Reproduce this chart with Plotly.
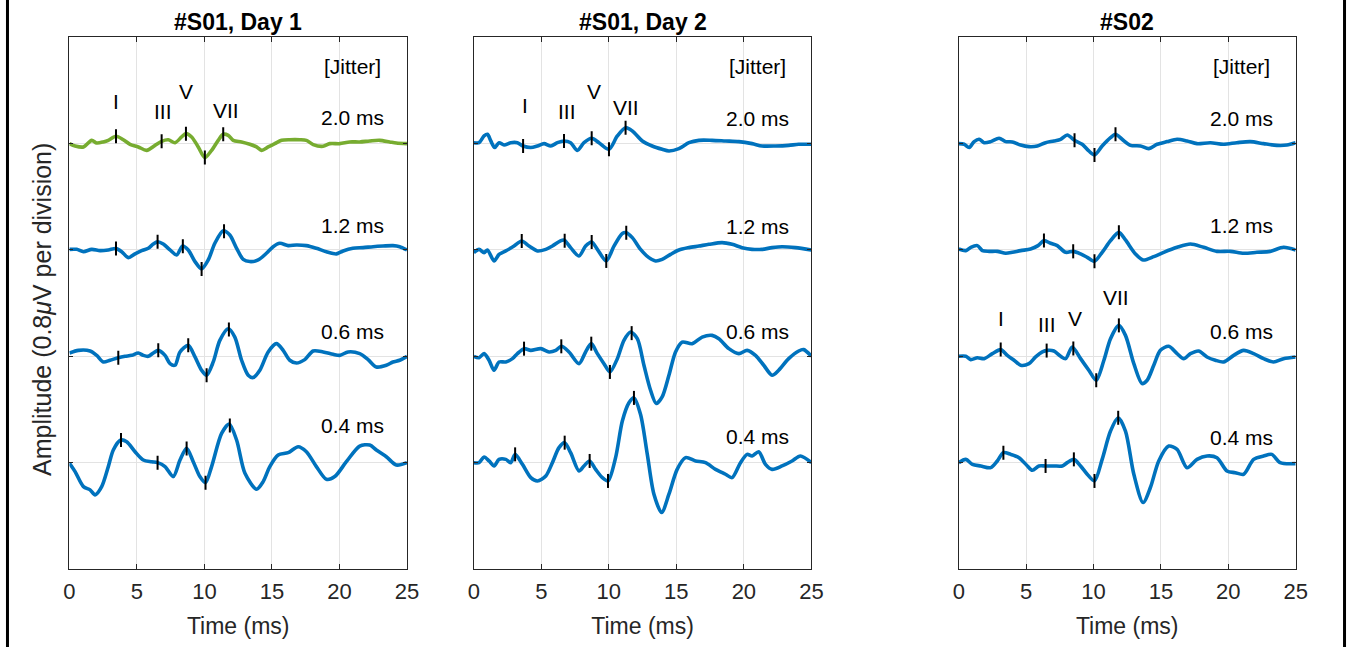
import numpy as np
import plotly.graph_objects as go

# ---------------- data (time in ms, amplitude in divisions) ----------------
jitters = ["2.0 ms", "1.2 ms", "0.6 ms", "0.4 ms"]
offsets = [3, 2, 1, 0]
titles = ["#S01, Day 1", "#S01, Day 2", "#S02"]

# Panel 1: #S01, Day 1
p1_t20 = [0, 0.42, 1.04, 1.65, 2.02, 2.51, 2.88, 3.45, 3.99, 4.49, 5.10, 5.72, 6.34, 6.83, 7.32, 7.82, 8.31, 8.63, 9.05, 9.54, 10.03, 10.53, 11.02, 11.39, 11.76, 12.13, 12.75, 13.36, 13.86, 14.23, 14.72, 15.21, 15.71, 16.32, 17.06, 17.55, 18.05, 18.79, 19.28, 20.02, 20.76, 21.50, 22.24, 22.98, 23.72, 24.21, 25.0]
p1_a20 = [0, -0.022, -0.031, 0.031, 0.006, 0.016, 0.031, 0.069, 0.037, -0.006, -0.031, -0.063, -0.016, 0.022, 0.037, 0.009, 0.063, 0.094, 0.063, -0.031, -0.131, -0.063, 0.031, 0.088, 0.078, 0.031, 0.016, -0.006, -0.031, -0.063, -0.031, 0, 0.031, 0.037, 0.037, 0.031, -0.009, -0.025, 0, 0, 0.016, 0.016, 0.025, 0.031, 0.016, 0.006, 0]
p1_t12 = [0, 0.54, 1.04, 1.65, 2.27, 2.88, 3.45, 3.87, 4.36, 4.86, 5.35, 5.84, 6.21, 6.53, 6.95, 7.45, 7.94, 8.38, 8.80, 9.30, 9.79, 10.28, 10.77, 11.39, 11.88, 12.38, 12.87, 13.36, 13.98, 14.59, 15.09, 15.58, 16.20, 16.81, 17.55, 18.29, 19.03, 19.77, 20.27, 20.99, 21.75, 22.49, 23.23, 23.96, 24.46, 25]
p1_a12 = [0.006, 0.006, -0.016, 0.006, -0.006, 0, 0.013, -0.016, -0.072, -0.037, -0.006, 0.016, 0.056, 0.078, 0.056, 0, -0.047, 0.037, 0, -0.109, -0.178, -0.094, 0.063, 0.181, 0.141, 0.016, -0.088, -0.109, -0.094, -0.031, 0.031, 0.063, 0.041, 0.047, 0.041, 0.016, -0.016, -0.037, -0.009, 0.016, 0.022, 0.031, 0.037, 0.041, 0.031, 0]
p1_t06 = [0, 0.67, 1.53, 2.02, 2.51, 3.01, 3.62, 4.12, 4.61, 5.10, 5.47, 5.84, 6.21, 6.58, 7.08, 7.45, 7.82, 8.19, 8.80, 9.30, 9.79, 10.16, 10.65, 11.14, 11.76, 12.25, 12.75, 13.24, 13.61, 14.10, 14.72, 15.33, 15.83, 16.32, 16.81, 17.43, 18.05, 18.79, 19.53, 20.02, 20.64, 21.50, 22.12, 22.73, 23.47, 23.96, 24.46, 25]
p1_a06 = [0.031, 0.056, 0.05, 0.009, -0.053, -0.037, -0.013, 0, 0.009, 0.031, 0.009, 0, 0.031, 0.056, 0.009, -0.069, -0.084, 0.041, 0.103, -0.006, -0.131, -0.178, -0.053, 0.15, 0.259, 0.181, -0.037, -0.178, -0.2, -0.131, 0.041, 0.119, 0.056, -0.037, -0.063, -0.031, 0.05, 0.041, 0.019, 0.009, 0.041, 0.025, -0.031, -0.1, -0.084, -0.053, -0.037, 0]
p1_t04 = [0, 0.42, 1.04, 1.53, 1.90, 2.39, 2.88, 3.25, 3.80, 4.24, 4.86, 5.47, 6.09, 6.53, 7.08, 7.69, 8.19, 8.68, 9.17, 9.66, 10.08, 10.53, 11.27, 11.83, 12.38, 13.00, 13.86, 14.35, 14.84, 15.46, 16.20, 16.94, 17.55, 18.29, 19.03, 19.65, 20.51, 21.50, 22.24, 22.73, 23.47, 24.21, 25]
p1_a04 = [-0.006, -0.084, -0.225, -0.256, -0.303, -0.225, -0.037, 0.119, 0.213, 0.197, 0.103, 0.025, 0.009, 0, -0.037, -0.131, 0.025, 0.134, 0.009, -0.131, -0.188, -0.037, 0.275, 0.363, 0.213, -0.1, -0.25, -0.178, -0.037, 0.072, 0.094, 0.15, 0.103, -0.037, -0.156, -0.131, 0.009, 0.156, 0.166, 0.119, 0.056, -0.022, 0]

# Panel 2: #S01, Day 2
p2_t20 = [0, 0.39, 0.76, 1.01, 1.26, 1.55, 1.87, 2.24, 2.74, 3.23, 3.65, 4.22, 4.71, 5.20, 5.70, 6.19, 6.68, 7.17, 7.67, 8.16, 8.73, 9.27, 10.01, 10.63, 11.24, 11.74, 12.48, 13.21, 13.95, 14.45, 15.19, 15.93, 16.67, 17.65, 18.64, 19.63, 20.61, 21.35, 22.34, 23.32, 24.06, 25]
p2_a20 = [0.009, 0.009, 0.072, 0.088, 0.025, -0.037, 0.009, -0.013, 0.009, 0.009, -0.022, -0.037, -0.022, 0, -0.022, 0.009, 0.025, 0.009, -0.063, 0.009, 0.05, 0.009, -0.053, 0.072, 0.15, 0.119, 0.025, -0.022, -0.053, -0.069, -0.047, 0.009, 0.031, 0.031, 0.025, 0.019, 0, -0.022, -0.022, -0.016, -0.006, -0.006]
p2_t12 = [0, 0.39, 0.76, 1.01, 1.50, 1.87, 2.37, 2.98, 3.55, 4.09, 4.71, 5.33, 5.82, 6.39, 6.68, 7.17, 7.79, 8.28, 8.73, 9.15, 9.81, 10.38, 11.00, 11.29, 11.74, 12.35, 12.97, 13.46, 13.95, 14.57, 15.19, 15.93, 16.67, 17.41, 18.39, 19.13, 19.87, 20.61, 21.35, 22.09, 22.83, 23.82, 25]
p2_a12 = [-0.025, 0.006, -0.025, 0, -0.103, -0.041, -0.009, 0.037, 0.084, 0.037, -0.009, 0.006, 0.037, 0.084, 0.094, 0.022, -0.056, 0.037, 0.075, 0.006, -0.103, 0.037, 0.156, 0.163, 0.116, 0.006, -0.072, -0.103, -0.088, -0.041, 0, 0.022, 0.037, 0.053, 0.069, 0.053, 0.022, 0.006, 0.006, 0.022, 0.031, 0.022, 0]
p2_t06 = [0, 0.39, 0.76, 1.13, 1.50, 1.87, 2.37, 2.86, 3.23, 3.72, 4.22, 4.96, 5.57, 6.07, 6.48, 7.05, 7.79, 8.28, 8.70, 9.15, 9.64, 10.08, 10.63, 11.12, 11.61, 12.11, 12.60, 13.09, 13.51, 13.95, 14.45, 14.94, 15.43, 16.17, 16.91, 17.65, 18.15, 18.89, 19.63, 20.24, 20.86, 21.47, 22.09, 22.58, 23.32, 24.06, 24.43, 25]
p2_a06 = [0, -0.013, 0.025, -0.037, -0.131, -0.053, -0.053, -0.022, 0.025, 0.072, 0.056, 0.072, 0.041, 0.056, 0.094, 0.041, -0.069, 0.041, 0.119, 0.025, -0.069, -0.147, -0.022, 0.15, 0.228, 0.166, -0.084, -0.319, -0.444, -0.381, -0.178, 0.041, 0.134, 0.119, 0.181, 0.197, 0.166, 0.072, 0.025, 0.056, 0.009, -0.084, -0.178, -0.131, -0.022, 0.05, 0.063, 0]
p2_t04 = [0, 0.39, 0.76, 1.13, 1.50, 1.87, 2.37, 2.74, 3.06, 3.60, 4.22, 4.71, 5.33, 5.82, 6.31, 6.73, 7.17, 7.79, 8.16, 8.58, 9.02, 9.52, 9.94, 10.50, 11.00, 11.49, 11.86, 12.35, 12.85, 13.34, 13.91, 14.45, 15.06, 15.68, 16.42, 17.16, 17.90, 18.64, 19.13, 19.75, 20.24, 20.61, 21.10, 21.60, 22.09, 22.83, 23.57, 24.19, 25]
p2_a04 = [0, 0, 0.053, 0.016, -0.031, 0.031, 0.031, 0, 0.078, -0.016, -0.141, -0.172, -0.125, 0, 0.141, 0.188, 0.094, -0.078, -0.031, 0.016, -0.063, -0.141, -0.172, 0.047, 0.391, 0.563, 0.609, 0.453, 0.078, -0.297, -0.469, -0.297, -0.063, 0.047, 0.016, 0, -0.063, -0.109, -0.141, 0, 0.078, 0.063, 0.103, -0.016, -0.063, -0.031, 0.016, 0.063, 0]

# Panel 3: #S02
p3_t20 = [0, 0.40, 0.77, 1.14, 1.51, 1.88, 2.37, 2.99, 3.48, 3.98, 4.59, 5.21, 5.83, 6.44, 7.06, 7.56, 8.05, 8.59, 9.16, 9.65, 10.07, 10.64, 11.26, 11.63, 12.12, 12.74, 13.48, 14.10, 14.72, 15.46, 16.20, 16.94, 17.68, 18.67, 19.65, 20.64, 21.63, 22.62, 23.60, 24.35, 25]
p3_a20 = [0, -0.006, -0.037, 0.019, 0.041, 0.009, 0.019, 0.05, 0.019, 0.016, -0.013, -0.028, -0.022, 0.009, 0.025, 0.041, 0.081, 0.031, -0.006, -0.069, -0.106, -0.022, 0.056, 0.088, 0.041, -0.016, -0.022, -0.047, -0.006, 0.019, 0.041, 0.025, 0, 0.009, -0.006, 0.009, 0.019, 0, -0.016, -0.013, 0.009]
p3_t12 = [0, 0.52, 0.89, 1.38, 1.75, 2.25, 2.86, 3.48, 3.98, 4.59, 5.33, 5.88, 6.32, 6.81, 7.31, 7.93, 8.49, 9.04, 9.53, 10.07, 10.64, 11.26, 11.88, 12.37, 13.11, 13.68, 14.47, 15.21, 16.20, 17.19, 18.17, 19.16, 20.15, 21.14, 22.12, 23.11, 24.10, 25]
p3_a12 = [0.009, -0.006, 0.025, 0.041, -0.006, -0.013, -0.013, -0.031, -0.022, -0.006, 0.009, 0.041, 0.088, 0.063, 0.041, -0.022, -0.013, -0.037, -0.069, -0.106, -0.022, 0.088, 0.166, 0.094, -0.037, -0.094, -0.063, -0.022, 0.025, 0.056, 0.025, -0.013, -0.013, -0.031, -0.022, -0.013, 0.025, 0]
p3_t06 = [0, 0.52, 0.89, 1.38, 1.88, 2.49, 3.11, 3.60, 4.10, 4.59, 5.21, 5.70, 6.20, 6.57, 7.06, 7.56, 7.93, 8.42, 9.04, 9.65, 10.20, 10.77, 11.26, 11.88, 12.37, 12.99, 13.60, 13.98, 14.47, 14.96, 15.58, 16.20, 16.69, 17.19, 17.80, 18.42, 19.04, 19.65, 20.40, 21.14, 21.88, 22.62, 23.36, 24.10, 25]
p3_a06 = [0, 0, -0.031, -0.013, -0.022, 0.025, 0.063, 0.009, -0.037, -0.084, -0.069, -0.006, 0.041, 0.056, 0.05, 0, -0.022, 0.088, -0.022, -0.131, -0.225, -0.037, 0.166, 0.291, 0.197, -0.069, -0.256, -0.225, -0.084, 0.056, 0.094, 0.025, -0.022, 0.025, 0.05, -0.006, -0.037, -0.053, 0.009, 0.056, 0.025, -0.022, -0.053, -0.022, -0.006]
p3_t04 = [0, 0.52, 1.01, 1.63, 2.37, 2.86, 3.31, 3.85, 4.47, 5.09, 5.46, 5.95, 6.44, 7.06, 7.68, 8.05, 8.54, 9.04, 9.53, 10.07, 10.64, 11.26, 11.83, 12.37, 12.99, 13.68, 14.22, 14.84, 15.58, 16.20, 16.94, 17.68, 18.42, 19.16, 19.90, 20.52, 21.14, 21.88, 22.62, 23.23, 23.85, 25]
p3_a04 = [0, 0.031, -0.016, -0.031, -0.047, 0.016, 0.094, 0.078, 0.047, -0.031, -0.072, -0.031, -0.031, -0.031, -0.031, 0, 0.031, -0.031, -0.109, -0.172, 0.031, 0.297, 0.422, 0.297, -0.109, -0.375, -0.234, 0.016, 0.156, 0.125, -0.047, 0.031, 0.063, 0.047, -0.078, -0.094, -0.109, 0.031, 0.063, 0.078, 0, -0.009]

# Peak latencies (ms) marked with short vertical ticks
p1_peaks = [[3.45, 6.83, 8.63, 10.03, 11.39], [3.45, 6.53, 8.40, 9.79, 11.45], [3.62, 6.58, 8.80, 10.16, 11.81], [3.82, 6.53, 8.68, 10.08, 11.88]]
p2_peaks = [[3.65, 6.68, 8.73, 10.01, 11.24], [3.55, 6.73, 8.73, 9.81, 11.29], [3.72, 6.48, 8.70, 10.08, 11.69], [3.06, 6.73, 8.58, 9.94, 11.86]]
p3_peaks = [[8.59, 10.07, 11.63], [6.32, 8.49, 10.07, 11.88], [3.11, 6.52, 8.50, 10.20, 11.88], [3.31, 6.44, 8.54, 10.07, 11.83]]

# Wave labels (text, time ms, y in divisions)
wave_names = ["I", "III", "V", "VII"]
p1_wave_x = [3.45, 6.95, 8.63, 11.56]
p1_wave_y = [3.40, 3.30, 3.49, 3.31]
p2_wave_x = [3.80, 6.88, 8.90, 11.24]
p2_wave_y = [3.36, 3.30, 3.49, 3.34]
p3_wave_x = [3.11, 6.57, 8.59, 11.68]
p3_wave_y = [1.36, 1.30, 1.36, 1.55]

# Jitter label positions (y in divisions) per panel
jitter_label_x = 21.0
jitter_head_y = 3.73
p1_jit_y = [3.246, 2.230, 1.232, 0.354]
p2_jit_y = [3.238, 2.219, 1.232, 0.245]
p3_jit_y = [3.238, 2.229, 1.232, 0.232]

# ---------------- figure ----------------
BLUE = "#0072BD"
GREEN = "#77AC30"
AX = "#262626"
FONT = "Liberation Sans, Arial, sans-serif"

panels = [
    dict(t=[p1_t20, p1_t12, p1_t06, p1_t04], a=[p1_a20, p1_a12, p1_a06, p1_a04], peaks=p1_peaks,
         wx=p1_wave_x, wy=p1_wave_y, jy=p1_jit_y, colors=[GREEN, BLUE, BLUE, BLUE]),
    dict(t=[p2_t20, p2_t12, p2_t06, p2_t04], a=[p2_a20, p2_a12, p2_a06, p2_a04], peaks=p2_peaks,
         wx=p2_wave_x, wy=p2_wave_y, jy=p2_jit_y, colors=[BLUE] * 4),
    dict(t=[p3_t20, p3_t12, p3_t06, p3_t04], a=[p3_a20, p3_a12, p3_a06, p3_a04], peaks=p3_peaks,
         wx=p3_wave_x, wy=p3_wave_y, jy=p3_jit_y, colors=[BLUE] * 4),
]

W, H = 1358, 647


def px(X):
    # horizontal pixel position -> paper fraction (corrects the slight horizontal squeeze of the capture)
    return max(0.0, min(1.0, (X - 6.0) / 0.988 / W))


x_domains = [[px(69.5), px(407.5)], [px(474.4), px(812.4)], [px(960), px(1297.3)]]
y_domain = [(H - 569) / H, (H - 37.3) / H]

fig = go.Figure()
annotations = []


def label(x, y, xref, yref, text, size, color="black", **kw):
    return dict(x=x, y=y, xref=xref, yref=yref, text=text, showarrow=False,
                xanchor="center", yanchor="middle",
                font=dict(family=FONT, size=size, color=color), **kw)


for i, p in enumerate(panels):
    xa = "x" if i == 0 else f"x{i+1}"
    ya = "y" if i == 0 else f"y{i+1}"
    for k in range(4):
        t = np.array(p["t"][k])
        y = np.array(p["a"][k]) + offsets[k]
        fig.add_trace(go.Scatter(x=t, y=y, mode="lines", xaxis=xa, yaxis=ya,
                                 line=dict(color=p["colors"][k], width=3.6, shape="spline", smoothing=0.8),
                                 showlegend=False, hoverinfo="skip"))
    for k in range(4):
        pk = np.array(p["peaks"][k])
        py = np.interp(pk, p["t"][k], p["a"][k]) + offsets[k]
        fig.add_trace(go.Scatter(x=pk, y=py, mode="markers", xaxis=xa, yaxis=ya,
                                 marker=dict(symbol="line-ns", size=10, line=dict(color="black", width=2)),
                                 showlegend=False, hoverinfo="skip"))
    annotations.append(label(jitter_label_x, jitter_head_y, xa, ya, "[Jitter]", 21))
    for k in range(4):
        annotations.append(label(jitter_label_x, p["jy"][k], xa, ya, jitters[k], 21))
    for n, name in enumerate(wave_names):
        annotations.append(label(p["wx"][n], p["wy"][n], xa, ya, name, 21))
    cx = (x_domains[i][0] + x_domains[i][1]) / 2
    annotations.append(label(cx, (H - 22) / H, "paper", "paper", f"<b>{titles[i]}</b>", 23))

# y-axis title
annotations.append(label(px(42), (H - 309) / H, "paper", "paper",
                         "Amplitude (0.8<i>μ</i>V per division)", 25, color=AX, textangle=-90))

xaxis_common = dict(range=[0, 25], tickvals=[0, 5, 10, 15, 20, 25], ticks="inside", ticklen=5,
                    tickcolor=AX, tickwidth=1, showline=True, linecolor=AX, linewidth=1, mirror="ticks",
                    showgrid=True, gridcolor="#e3e3e3", gridwidth=1, zeroline=False,
                    tickfont=dict(family=FONT, size=22, color=AX), ticklabelstandoff=3,
                    title=dict(text="Time (ms)", font=dict(family=FONT, size=23, color=AX), standoff=14))
yaxis_common = dict(range=[-1, 4], tickvals=[0, 1, 2, 3], ticks="inside", ticklen=4, tickcolor=AX,
                    showticklabels=False, showline=True, linecolor=AX, linewidth=1, mirror="ticks",
                    showgrid=True, gridcolor="#e3e3e3", gridwidth=1, zeroline=False, domain=y_domain)

layout = dict(width=W, height=H, margin=dict(l=0, r=0, t=0, b=0),
              paper_bgcolor="white", plot_bgcolor="white", annotations=annotations,
              shapes=[dict(type="line", xref="paper", yref="paper", x0=1.5 / W, x1=1.5 / W, y0=0, y1=1,
                           line=dict(color="black", width=3)),
                      dict(type="line", xref="paper", yref="paper", x0=1356.5 / W, x1=1356.5 / W, y0=0, y1=1,
                           line=dict(color="black", width=3))])
for i in range(3):
    xk = "xaxis" if i == 0 else f"xaxis{i+1}"
    yk = "yaxis" if i == 0 else f"yaxis{i+1}"
    layout[xk] = dict(xaxis_common, domain=x_domains[i], anchor="y" if i == 0 else f"y{i+1}")
    layout[yk] = dict(yaxis_common, anchor="x" if i == 0 else f"x{i+1}")

fig.update_layout(**layout)
fig.write_html("out.html")
